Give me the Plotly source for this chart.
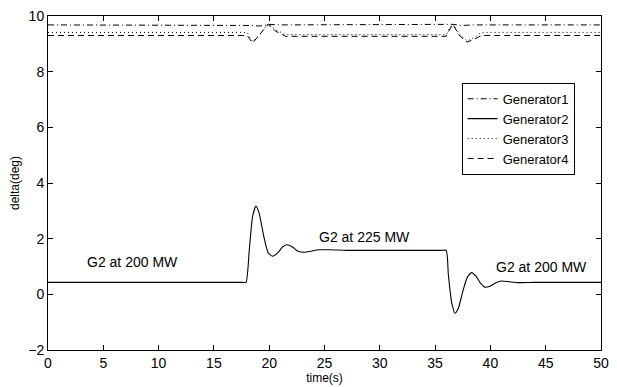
import plotly.graph_objects as go

# Generator 2 (solid)
t_g2 = [0, 3, 6, 9, 12, 15, 17.0, 17.6, 17.9, 18.2, 18.5, 18.8, 19.1, 19.5, 19.9, 20.3,
        20.8, 21.2, 21.6, 22.1, 22.6, 23.2, 23.8, 24.5, 25.5, 27, 29, 31, 33, 35, 35.6,
        36.0, 36.2, 36.5, 36.8, 37.1, 37.5, 37.9, 38.3, 38.7, 39.1, 39.5, 40.0, 40.5,
        41.0, 41.7, 42.5, 44, 46, 48, 50]
y_g2 = [0.43, 0.43, 0.43, 0.43, 0.43, 0.43, 0.43, 0.43, 0.43, 1.6, 2.8, 3.17, 2.9, 2.1, 1.5, 1.37,
        1.5, 1.7, 1.78, 1.7, 1.55, 1.51, 1.55, 1.6, 1.6, 1.58, 1.58, 1.58, 1.58, 1.58, 1.58,
        1.58, 0.7, -0.3, -0.68, -0.5, 0.1, 0.6, 0.78, 0.65, 0.4, 0.26, 0.3, 0.42,
        0.48, 0.45, 0.42, 0.43, 0.43, 0.43, 0.43]

# Generator 1 (dash-dot)
t_g1 = [0, 18.0, 18.5, 19.2, 20.0, 21.0, 36.0, 36.6, 37.5, 38.5, 50]
y_g1 = [9.68, 9.68, 9.66, 9.64, 9.70, 9.68, 9.68, 9.70, 9.66, 9.68, 9.68]

# Generator 3 (dotted)
t_g3 = [0, 18.0, 18.5, 19.2, 19.9, 20.6, 21.5, 22.5, 36.0, 36.3, 36.6, 37.2, 37.9, 38.6, 39.2, 40, 50]
y_g3 = [9.41, 9.41, 9.08, 9.35, 9.72, 9.50, 9.33, 9.33, 9.33, 9.55, 9.72, 9.35, 9.10, 9.25, 9.41, 9.41, 9.41]

# Generator 4 (dashed)
t_g4 = [0, 18.0, 18.5, 19.2, 19.9, 20.6, 21.5, 22.5, 36.0, 36.3, 36.6, 37.2, 37.9, 38.6, 39.2, 40, 50]
y_g4 = [9.30, 9.30, 9.03, 9.35, 9.70, 9.45, 9.27, 9.27, 9.27, 9.50, 9.70, 9.30, 9.06, 9.18, 9.30, 9.30, 9.30]

x_ticks = [0, 5, 10, 15, 20, 25, 30, 35, 40, 45, 50]
y_ticks = [-2, 0, 2, 4, 6, 8, 10]

labels = ["G2 at 200 MW", "G2 at 225 MW", "G2 at 200 MW"]
label_t = [7.6, 28.6, 44.6]
label_y = [1.17, 2.05, 1.0]

font_family = "Liberation Sans, Arial, Helvetica, sans-serif"

fig = go.Figure()
fig.add_trace(go.Scatter(x=t_g1, y=y_g1, mode="lines", name="Generator1",
                         line=dict(color="black", width=1, dash="6px,3px,1px,3px")))
fig.add_trace(go.Scatter(x=t_g2, y=y_g2, mode="lines", name="Generator2",
                         line=dict(color="black", width=1.1, shape="spline", smoothing=0.6)))
fig.add_trace(go.Scatter(x=t_g3, y=y_g3, mode="lines", name="Generator3",
                         line=dict(color="black", width=1, dash="1px,3px")))
fig.add_trace(go.Scatter(x=t_g4, y=y_g4, mode="lines", name="Generator4",
                         line=dict(color="black", width=1, dash="6px,4px")))

for txt, tx, ty in zip(labels, label_t, label_y):
    fig.add_annotation(x=tx, y=ty, text=txt, showarrow=False,
                       font=dict(size=14, color="black", family=font_family))

axis_common = dict(showline=True, linecolor="black", linewidth=1, mirror="ticks",
                   ticks="inside", ticklen=5, tickcolor="black", showgrid=False,
                   zeroline=False, tickfont=dict(size=14, color="black", family=font_family))

fig.update_layout(
    width=617, height=387,
    margin=dict(l=48, r=8, t=15, b=32),
    paper_bgcolor="white", plot_bgcolor="white",
    font=dict(family=font_family, color="black"),
    xaxis=dict(range=[0, 50], tickvals=x_ticks,
               title=dict(text="time(s)", font=dict(size=12), standoff=0), **axis_common),
    yaxis=dict(range=[-2, 10], tickvals=y_ticks,
               title=dict(text="delta(deg)", font=dict(size=12), standoff=6), **axis_common),
    legend=dict(x=0.748, y=0.8, xanchor="left", yanchor="top",
                bordercolor="black", borderwidth=1, bgcolor="white", itemwidth=30,
                font=dict(size=13, family=font_family), tracegroupgap=0),
    showlegend=True,
)

fig.write_html("out.html")
